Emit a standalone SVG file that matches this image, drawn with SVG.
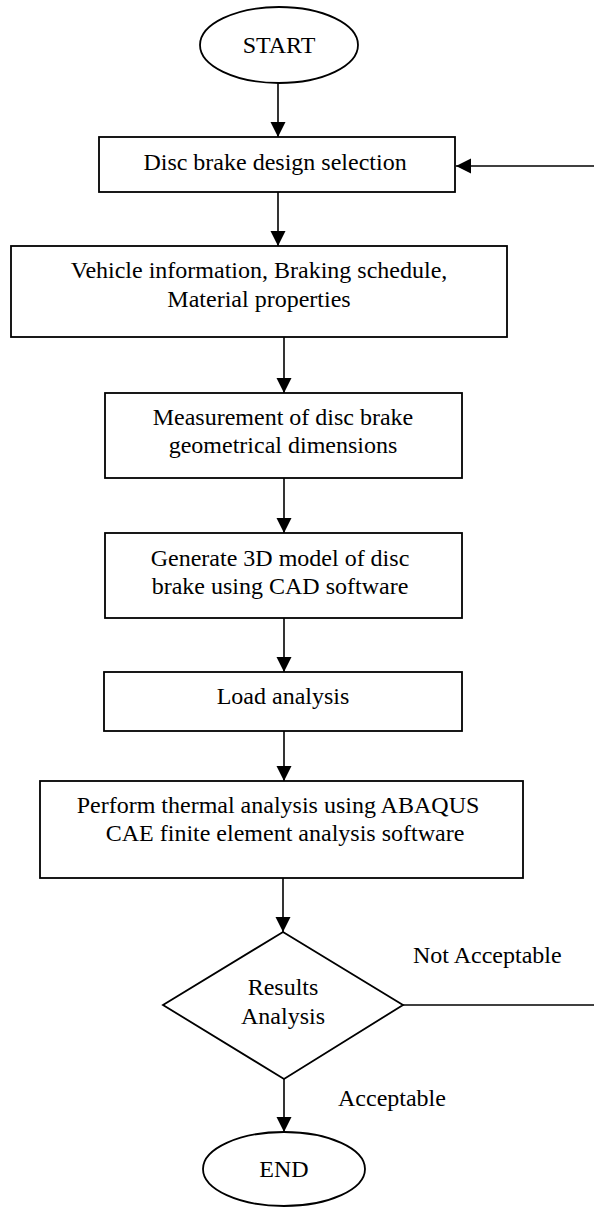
<svg xmlns="http://www.w3.org/2000/svg" width="594" height="1207" viewBox="0 0 594 1207">
  <style>
    .shape { fill: #ffffff; stroke: #000000; stroke-width: 1.8; }
    .edge { fill: none; stroke: #000000; stroke-width: 1.6; }
    .label { font-family: "Liberation Serif", "Times New Roman", serif; font-size: 24px; fill: #000000; text-anchor: middle; }
    .note { font-family: "Liberation Serif", "Times New Roman", serif; font-size: 24px; fill: #000000; }
  </style>
  <defs>
    <marker id="arrow" markerUnits="userSpaceOnUse" markerWidth="16" markerHeight="16" viewBox="0 0 16 16" refX="15" refY="7.5" orient="auto">
      <path d="M0,0 L15,7.5 L0,15 Z" fill="#000000"/>
    </marker>
  </defs>

  <!-- connectors -->
  <g id="connectors">
    <line class="edge" x1="278" y1="83" x2="278" y2="137" marker-end="url(#arrow)"/>
    <line class="edge" x1="278" y1="192" x2="278" y2="246" marker-end="url(#arrow)"/>
    <line class="edge" x1="284" y1="337" x2="284" y2="393" marker-end="url(#arrow)"/>
    <line class="edge" x1="284" y1="478" x2="284" y2="533" marker-end="url(#arrow)"/>
    <line class="edge" x1="284" y1="618" x2="284" y2="672" marker-end="url(#arrow)"/>
    <line class="edge" x1="284" y1="731" x2="284" y2="781" marker-end="url(#arrow)"/>
    <line class="edge" x1="283" y1="878" x2="283" y2="932" marker-end="url(#arrow)"/>
    <line class="edge" x1="284" y1="1079" x2="284" y2="1132" marker-end="url(#arrow)"/>
    <!-- loop back to design selection -->
    <line class="edge" x1="402" y1="1005" x2="596" y2="1005"/>
    <line class="edge" x1="596" y1="166" x2="456" y2="166" marker-end="url(#arrow)"/>
    <text class="note" x="413" y="963">Not Acceptable</text>
    <text class="note" x="338" y="1106">Acceptable</text>
  </g>

  <g id="start">
    <ellipse class="shape" cx="279" cy="45" rx="79" ry="38"/>
    <text class="label" x="279" y="53">START</text>
  </g>

  <g id="design-selection">
    <rect class="shape" x="99" y="137" width="356" height="55"/>
    <text class="label" x="275" y="170">Disc brake design selection</text>
  </g>

  <g id="inputs">
    <rect class="shape" x="11" y="246" width="496" height="91"/>
    <text class="label" x="259" y="278">Vehicle information, Braking schedule,</text>
    <text class="label" x="259" y="307">Material properties</text>
  </g>

  <g id="measurement">
    <rect class="shape" x="105" y="393" width="357" height="85"/>
    <text class="label" x="283" y="425">Measurement of disc brake</text>
    <text class="label" x="283" y="453">geometrical dimensions</text>
  </g>

  <g id="cad-model">
    <rect class="shape" x="105" y="533" width="357" height="85"/>
    <text class="label" x="280" y="566">Generate 3D model of disc</text>
    <text class="label" x="280" y="594">brake using CAD software</text>
  </g>

  <g id="load-analysis">
    <rect class="shape" x="104" y="672" width="358" height="59"/>
    <text class="label" x="283" y="704">Load analysis</text>
  </g>

  <g id="thermal-analysis">
    <rect class="shape" x="40" y="781" width="483" height="97"/>
    <text class="label" x="278" y="813">Perform thermal analysis using ABAQUS</text>
    <text class="label" x="285" y="841">CAE finite element analysis software</text>
  </g>

  <g id="results">
    <polygon class="shape" points="283,932 403,1005 284,1079 163,1005"/>
    <text class="label" x="283" y="995">Results</text>
    <text class="label" x="283" y="1024">Analysis</text>
  </g>

  <g id="end">
    <ellipse class="shape" cx="284" cy="1169" rx="81" ry="37"/>
    <text class="label" x="284" y="1177">END</text>
  </g>
</svg>
